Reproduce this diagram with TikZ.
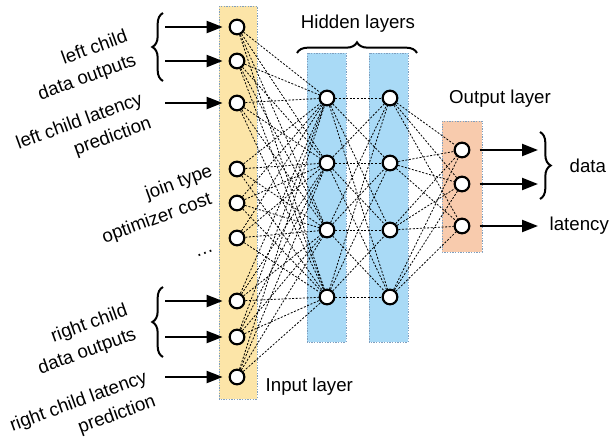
\documentclass[tikz,border=0pt]{standalone}
\usepackage{fontspec}
\setmainfont{Liberation Sans}
\usetikzlibrary{arrows.meta,decorations.pathreplacing}
\definecolor{inputfill}{HTML}{FCE5A8}
\definecolor{hiddenfill}{HTML}{A9DAF6}
\definecolor{outputfill}{HTML}{F8CBAD}
\definecolor{boxline}{HTML}{7F9FBF}
\tikzset{
  neuron/.style={circle, draw, line width=1.6pt, fill=white, minimum size=11pt, inner sep=0pt},
  layerbox/.style={draw=boxline, line width=0.6pt, dash pattern=on 1pt off 1pt},
  link/.style={line width=0.6pt, dash pattern=on 1.5pt off 1.2pt},
  feed/.style={line width=1.6pt, -{Triangle[length=12pt,width=9pt]}},
  curly/.style={line width=1.5pt, decorate, decoration={brace, amplitude=8pt}},
  tilted/.style={rotate=20, align=right, inner sep=0pt}
}
\begin{document}
\begin{tikzpicture}[x=0.75pt, y=-0.75pt, font=\fontsize{14}{19}\selectfont]
            \useasboundingbox (0,0) rectangle (613,440);
            % layer boxes
            \fill[inputfill] (219,6) rectangle (257,399);
            \draw[layerbox] (219,6) rectangle (257,399);
            \fill[hiddenfill] (307,53) rectangle (346,342);
            \draw[layerbox] (307,53) rectangle (346,342);
            \fill[hiddenfill] (369,53) rectangle (408,342);
            \draw[layerbox] (369,53) rectangle (408,342);
            \fill[outputfill] (442,121) rectangle (482,252);
            \draw[layerbox] (442,121) rectangle (482,252);
            % input neurons
            \foreach \y [count=\i] in {27,61,103,169,203,238,301,337,377}
              \node[neuron] (in-\i) at (237,\y) {};
            % hidden neurons
            \foreach \y [count=\i] in {98,163,230,297} {
              \node[neuron] (ha-\i) at (327,\y) {};
              \node[neuron] (hb-\i) at (390,\y) {};
            }
            % output neurons
            \foreach \y [count=\i] in {150,184,226}
              \node[neuron] (out-\i) at (462,\y) {};
            % links input -> hidden 1
            \foreach \i in {1,...,9}
              \foreach \j in {1,...,4}
                \draw[link] (in-\i) -- (ha-\j);
            % links hidden 1 -> hidden 2
            \foreach \i in {1,...,4}
              \foreach \j in {1,...,4}
                \draw[link] (ha-\i) -- (hb-\j);
            % links hidden 2 -> output
            \foreach \i in {1,...,4}
              \foreach \j in {1,...,3}
                \draw[link] (hb-\i) -- (out-\j);
            % input arrows
            \foreach \i in {1,2,3,7,8,9} {
              \coordinate (src-\i) at (165,0 |- in-\i);
              \draw[feed, shorten >=4.5pt] (src-\i) -- (in-\i);
            }
            % output arrows
            \foreach \i in {1,2,3} {
              \coordinate (dst-\i) at (538,0 |- out-\i);
              \draw[feed, shorten <=7pt] (out-\i) -- (dst-\i);
            }
            % braces
            \draw[curly] (163,81) -- (163,13);
            \draw[curly] (163,357) -- (163,287);
            \draw[curly] (297,53) -- (417,53);
            \draw[curly] (540,132) -- (540,199);
            % input labels
            \node[tilted] (lbl-left-data) at (83,66) {left child\\data outputs};
            \node[tilted] (lbl-left-lat) at (84,134) {left child latency\\prediction};
            \node[tilted] (lbl-join) at (179,183) {join type};
            \node[tilted] (lbl-cost) at (157,219) {optimizer cost};
            \node[tilted] (lbl-dots) at (205,253) {\dots};
            \node[tilted] (lbl-right-data) at (83,340) {right child\\data outputs};
            \node[tilted] (lbl-right-lat) at (83,414) {right child latency\\prediction};
            % layer labels
            \node (lbl-hidden) at (358,24) {Hidden layers};
            \node (lbl-output) at (500,99) {Output layer};
            \node[anchor=west] (lbl-input) at (261,387) {Input layer};
            % output labels
            \node[anchor=west] (lbl-data) at (565,166) {data};
            \node[anchor=west] (lbl-latency) at (545,226) {latency};
        \end{tikzpicture}
\end{document}
